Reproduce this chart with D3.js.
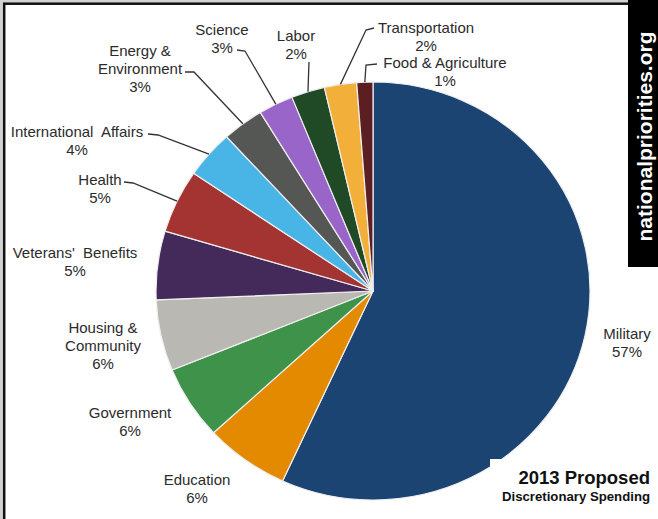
<!DOCTYPE html>
<html>
<head>
<meta charset="utf-8">
<script src="https://cdn.jsdelivr.net/npm/d3@7"></script>
<style>
  body { margin: 0; background: #d2d2d2; }
  svg { display: block; font-family: "Liberation Sans", Arial, sans-serif; }
  .label { font-size: 15px; fill: #2b2b2b; white-space: pre; }
</style>
</head>
<body>
<div id="chart"></div>
<script>
const categories = ['Military', 'Education', 'Government', 'Housing & Community', "Veterans' Benefits", 'Health',
    'International Affairs', 'Energy & Environment', 'Science', 'Labor', 'Transportation', 'Food & Agriculture'];
const shares = [56.9, 6.3, 5.7, 5.5, 5.3, 4.9, 3.7, 3.1, 2.6, 2.5, 2.4, 1.2];
const percentLabels = ['57%', '6%', '6%', '6%', '5%', '5%', '4%', '3%', '3%', '2%', '2%', '1%'];
const nameLines = [['Military'], ['Education'], ['Government'], ['Housing &', 'Community'], ["Veterans'  Benefits"], ['Health'],
    ['International  Affairs'], ['Energy &', 'Environment'], ['Science'], ['Labor'], ['Transportation'], ['Food & Agriculture']];
const colors = ['#1b4472', '#e38a00', '#3e9249', '#b9b8b3', '#44295b', '#a43431',
    '#49b5e6', '#555755', '#9a65c9', '#1f4a25', '#f2b03a', '#5c1f21'];

const width = 658;
const height = 519;
const cx = 373;
const cy = 291;
const ry = 209;
const sx = 217 / 209;

// label placement: centre x, first baseline, optional leader start + elbow
const labelLayout = [
    { x: 627, y: 339 },
    { x: 197, y: 485 },
    { x: 130, y: 418 },
    { x: 103, y: 333 },
    { x: 75, y: 258 },
    { x: 100, y: 185, lead: [[124, 182], [133, 183]] },
    { x: 77, y: 137, lead: [[148, 134], [158, 135]] },
    { x: 140, y: 56, lead: [[185, 72], [194, 72]] },
    { x: 222, y: 35, lead: [[237, 50], [245, 51]] },
    { x: 296, y: 41, lead: [[309, 62], [309, 62]] },
    { x: 426, y: 33, lead: [[374, 28], [366, 30]] },
    { x: 445, y: 68, lead: [[377, 64], [366, 65]] }
];

const svg = d3.select('#chart')
    .append('svg')
    .attr('width', width)
    .attr('height', height);

svg.append('rect')
    .attr('x', 4.2)
    .attr('y', 3.7)
    .attr('width', 800)
    .attr('height', 700)
    .style('fill', '#fff')
    .style('stroke', '#111')
    .style('stroke-width', 2.5);

const pie = d3.pie().sort(null).value(d => d);
const arcs = pie(shares);
const arc = d3.arc().innerRadius(0).outerRadius(ry);

const pieG = svg.append('g')
    .attr('transform', `translate(${cx},${cy}) scale(${sx},1)`);

pieG.selectAll('path')
    .data(arcs)
    .enter()
    .append('path')
    .attr('d', arc)
    .attr('vector-effect', 'non-scaling-stroke')
    .style('fill', (d, i) => colors[i])
    .style('stroke', '#eeeeee')
    .style('stroke-width', 1.2)
    .style('stroke-linejoin', 'round');

// leader lines to the mid-angle of each slice edge
const anchor = d => {
    const a = (d.startAngle + d.endAngle) / 2;
    return [cx + sx * ry * Math.sin(a), cy - ry * Math.cos(a)];
};

arcs.forEach((d, i) => {
    const lay = labelLayout[i];
    if (lay.lead) {
        const pts = [lay.lead[0], lay.lead[1], anchor(d)];
        svg.append('path')
            .attr('d', d3.line()(pts))
            .style('fill', 'none')
            .style('stroke', '#333')
            .style('stroke-width', 1.3);
    }
    const t = svg.append('text')
        .attr('class', 'label')
        .attr('text-anchor', 'middle')
        .attr('x', lay.x)
        .attr('y', lay.y);
    const lines = nameLines[i].concat([percentLabels[i]]);
    lines.forEach((s, j) => {
        t.append('tspan')
            .attr('x', lay.x)
            .attr('dy', j === 0 ? 0 : 18)
            .text(s);
    });
});

// side banner
svg.append('rect')
    .attr('x', 628)
    .attr('y', 0)
    .attr('width', 30)
    .attr('height', 267)
    .style('fill', '#000');

svg.append('text')
    .attr('transform', 'translate(652,136.5) rotate(-90)')
    .attr('text-anchor', 'middle')
    .style('font-size', '21px')
    .style('font-weight', 'bold')
    .style('fill', '#fff')
    .text('nationalpriorities.org');

// title box
svg.append('rect')
    .attr('x', 490)
    .attr('y', 459)
    .attr('width', 168)
    .attr('height', 60)
    .style('fill', '#fff');

svg.append('text')
    .attr('x', 650)
    .attr('y', 484)
    .attr('text-anchor', 'end')
    .style('font-size', '18.5px')
    .style('font-weight', 'bold')
    .style('fill', '#111')
    .text('2013 Proposed');

svg.append('text')
    .attr('x', 650)
    .attr('y', 501)
    .attr('text-anchor', 'end')
    .style('font-size', '13.2px')
    .style('font-weight', 'bold')
    .style('fill', '#111')
    .text('Discretionary Spending');
</script>
</body>
</html>
